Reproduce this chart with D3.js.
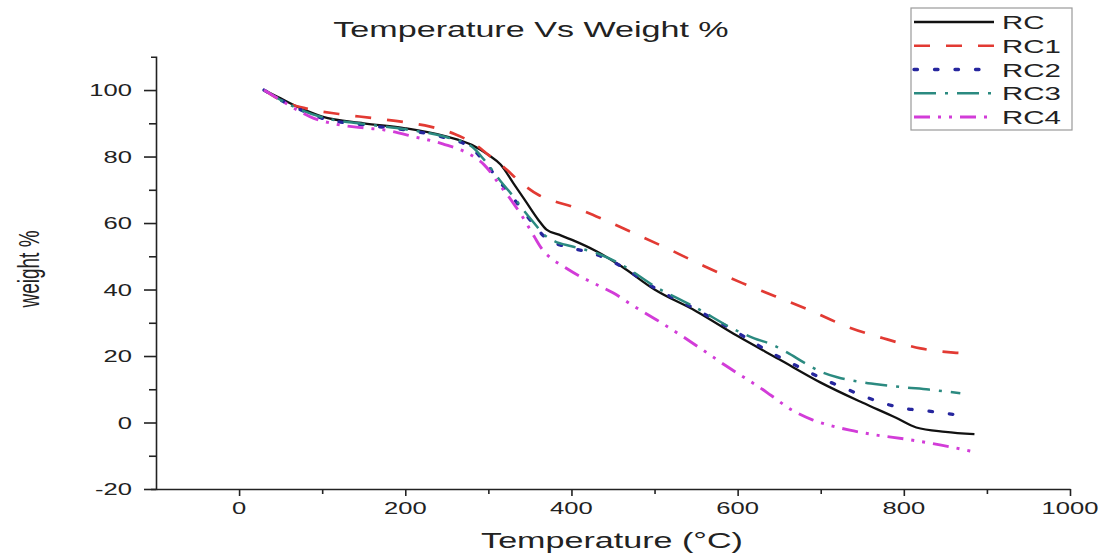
<!DOCTYPE html>
<html>
<head>
<meta charset="utf-8">
<script src="https://cdn.jsdelivr.net/npm/d3@7/dist/d3.min.js"></script>
<style>
html,body{margin:0;padding:0;background:#fff;}
svg{display:block;font-family:"Liberation Sans",Arial,sans-serif;}
</style>
</head>
<body>
<svg id="chart" width="1107" height="556"></svg>
<script>
// ---- data ----
const seriesNames = ["RC", "RC1", "RC2", "RC3", "RC4"];

const rcT  = [30, 50, 70, 100, 150, 200, 250, 280, 300, 315, 330, 345, 360, 370, 385, 400, 430, 460, 500, 550, 600, 650, 700, 750, 790, 815, 850, 885];
const rcW  = [100, 97.5, 95, 92, 90, 88.5, 86, 83.5, 80.5, 77.5, 72, 66.5, 61, 58, 56.5, 55, 51.5, 47, 40, 33.5, 26, 19, 12, 6, 1.5, -1.5, -2.8, -3.5];

const rc1T = [30, 50, 80, 120, 160, 200, 230, 260, 285, 300, 320, 340, 360, 380, 400, 430, 470, 515, 560, 605, 645, 690, 730, 780, 820, 860, 880];
const rc1W = [100, 97, 94.5, 92.8, 91.6, 90.3, 89, 86.7, 83.5, 80.5, 76.5, 72, 68.5, 66.5, 65, 62, 57.5, 52.4, 47, 42, 38, 33.4, 29, 25, 22.3, 21, 20.8];

const rc2T = [30, 50, 70, 100, 150, 200, 250, 280, 295, 315, 330, 342, 355, 367, 380, 400, 430, 460, 500, 550, 600, 627, 653, 677, 701, 727, 753, 777, 801, 825, 850, 876];
const rc2W = [100, 97, 94.5, 91.5, 89.5, 88, 85.5, 82.5, 78.5, 72, 67.5, 63.5, 59.5, 56, 54, 52.5, 50.5, 47, 40.5, 34, 27, 22.9, 19.3, 16.3, 13.3, 10.5, 7.8, 5.7, 4.2, 3.6, 2.7, 2.1];

const rc3T = [30, 50, 70, 100, 150, 200, 250, 280, 295, 315, 330, 342, 355, 367, 380, 400, 430, 460, 500, 550, 600, 620, 640, 660, 680, 700, 720, 745, 770, 800, 830, 868];
const rc3W = [100, 97, 94.5, 91.8, 89.8, 88.2, 85.8, 83, 79, 72.5, 68, 64, 60, 56.5, 54.5, 53, 51, 47.5, 41, 34.5, 27.5, 25.3, 23.6, 21, 18, 15.3, 13.6, 12.3, 11.4, 10.6, 9.9, 8.8];

const rc4T = [30, 50, 70, 90, 115, 150, 175, 210, 245, 275, 295, 315, 330, 342, 355, 365, 375, 390, 410, 426, 450, 475, 505, 530, 560, 585, 610, 625, 640, 665, 690, 710, 735, 765, 805, 845, 880];
const rc4W = [100, 97, 94, 91.5, 89.8, 88.6, 88, 86, 83.8, 81, 77.5, 71, 66, 61.5, 56, 52, 49.5, 47, 44, 42, 39, 35, 30.5, 26.5, 21.5, 17.2, 13.2, 10.8, 8.2, 3.8, 0.8, -0.8, -2.3, -3.7, -5.1, -6.8, -8.6];

const xTickValues = [0, 200, 400, 600, 800, 1000];
const xMinorValues = [100, 300, 500, 700, 900];
const yTickValues = [-20, 0, 20, 40, 60, 80, 100];
const yTickLabels = ["-20", "0", "20", "40", "60", "80", "100"];
const yMinorValues = [-10, 10, 30, 50, 70, 90];

const titleText = "Temperature Vs Weight %";
const xTitle = "Temperature (\u00B0C)";
const yTitle = "weight %";

// ---- styles ----
const styles = {
  RC:  {color: "#111111", dash: null, width: 2.3},
  RC1: {color: "#e23a33", dash: "16,16", width: 2.7},
  RC2: {color: "#26269e", dash: "3.5,17", width: 3.3},
  RC3: {color: "#2b8a80", dash: "22,9,3,9", width: 2.5},
  RC4: {color: "#d23cd8", dash: "16,8,3,8,3,8", width: 2.9}
};
const SX = 1.55; // horizontal stretch of the original picture's text

const svg = d3.select("#chart");
const x = d3.scaleLinear().domain([-100, 1000]).range([156, 1070]);
const y = d3.scaleLinear().domain([-20, 110]).range([489, 56.8]);

const series = [
  {name: "RC",  T: rcT,  W: rcW},
  {name: "RC1", T: rc1T, W: rc1W},
  {name: "RC2", T: rc2T, W: rc2W},
  {name: "RC3", T: rc3T, W: rc3W},
  {name: "RC4", T: rc4T, W: rc4W}
];

const axisColor = "#222";

// X axis
const gx = svg.append("g").attr("transform", `translate(0,${y(-20)})`);
gx.call(d3.axisBottom(x).tickValues(xTickValues).tickSize(7).tickSizeOuter(0).tickFormat(""));
gx.append("g").call(d3.axisBottom(x).tickValues(xMinorValues).tickSize(5).tickSizeOuter(0).tickFormat(""))
  .select(".domain").remove();
gx.selectAll("path,line").attr("stroke", axisColor).attr("stroke-width", 1.6);

// Y axis
const gy = svg.append("g").attr("transform", `translate(${x(-100)},0)`);
gy.call(d3.axisLeft(y).tickValues(yTickValues).tickSize(12).tickSizeOuter(5).tickFormat(""));
gy.append("g").call(d3.axisLeft(y).tickValues(yMinorValues).tickSize(7).tickSizeOuter(0).tickFormat(""))
  .select(".domain").remove();
gy.selectAll("path,line").attr("stroke", axisColor).attr("stroke-width", 1.6);

// tick labels (stretched horizontally like the source)
svg.append("g").selectAll("text").data(xTickValues).join("text")
  .attr("transform", d => `translate(${x(d)},${y(-20) + 25}) scale(${SX},1)`)
  .attr("text-anchor", "middle")
  .attr("font-size", 16.5)
  .attr("fill", "#222")
  .text(d => String(d));

svg.append("g").selectAll("text").data(yTickValues).join("text")
  .attr("transform", d => `translate(${x(-100) - 24},${y(d) + 6}) scale(${SX},1)`)
  .attr("text-anchor", "end")
  .attr("font-size", 16.5)
  .attr("fill", "#222")
  .text((d, i) => yTickLabels[i]);

// titles
svg.append("text")
  .attr("transform", `translate(531,37) scale(${SX},1)`)
  .attr("text-anchor", "middle")
  .attr("font-size", 22)
  .attr("fill", "#222")
  .text(titleText);

svg.append("text")
  .attr("transform", `translate(612,548) scale(${SX},1)`)
  .attr("text-anchor", "middle")
  .attr("font-size", 22)
  .attr("fill", "#222")
  .text(xTitle);

svg.append("text")
  .attr("transform", `translate(39,269) scale(${SX},1) rotate(-90)`)
  .attr("text-anchor", "middle")
  .attr("font-size", 19)
  .attr("fill", "#222")
  .text(yTitle);

// lines
const line = d3.line()
  .x(d => x(d[0]))
  .y(d => y(d[1]))
  .curve(d3.curveMonotoneX);

svg.append("g").selectAll("path").data(series).join("path")
  .attr("d", s => line(s.T.map((t, i) => [t, s.W[i]])))
  .attr("fill", "none")
  .attr("stroke", s => styles[s.name].color)
  .attr("stroke-width", s => styles[s.name].width)
  .attr("stroke-dasharray", s => styles[s.name].dash)
  .attr("stroke-linecap", s => s.name === "RC2" ? "round" : "butt");

// legend
const lg = svg.append("g");
lg.append("rect").attr("x", 911).attr("y", 8).attr("width", 161).attr("height", 122)
  .attr("fill", "#fff").attr("stroke", "#9a9a9a").attr("stroke-width", 1.2);
const legendY = d3.scalePoint().domain(seriesNames).range([22, 117]);
const items = lg.selectAll("g").data(seriesNames).join("g")
  .attr("transform", d => `translate(0,${legendY(d)})`);
items.append("line").attr("x1", 914).attr("x2", 994).attr("y1", 0).attr("y2", 0)
  .attr("stroke", d => styles[d].color)
  .attr("stroke-width", d => styles[d].width)
  .attr("stroke-dasharray", d => styles[d].dash)
  .attr("stroke-linecap", d => d === "RC2" ? "round" : "butt");
items.append("text")
  .attr("transform", `translate(1002,7) scale(${SX},1)`)
  .attr("font-size", 19)
  .attr("fill", "#222")
  .text(d => d);
</script>
</body>
</html>
